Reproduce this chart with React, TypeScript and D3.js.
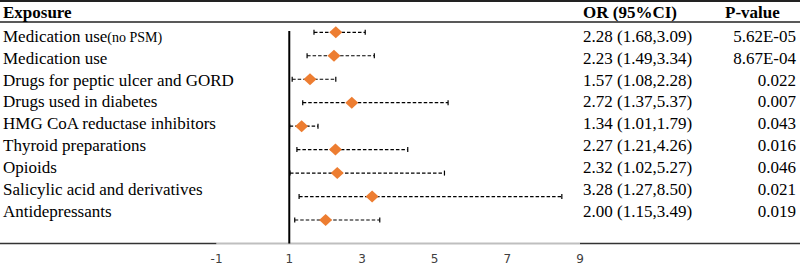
import React from "react";
import * as d3 from "d3";

const categories = [
  "Medication use",
  "Medication use",
  "Drugs for peptic ulcer and GORD",
  "Drugs used in diabetes",
  "HMG CoA reductase inhibitors",
  "Thyroid preparations",
  "Opioids",
  "Salicylic acid and derivatives",
  "Antidepressants",
];
const categoryNotes = ["(no PSM)", "", "", "", "", "", "", "", ""];
const orValues = [2.28, 2.23, 1.57, 2.72, 1.34, 2.27, 2.32, 3.28, 2.0];
const lowerCI = [1.68, 1.49, 1.08, 1.37, 1.01, 1.21, 1.02, 1.27, 1.15];
const upperCI = [3.09, 3.34, 2.28, 5.37, 1.79, 4.26, 5.27, 8.5, 3.49];
const pValues = ["5.62E-05", "8.67E-04", "0.022", "0.007", "0.043", "0.016", "0.046", "0.021", "0.019"];
const tickValues = [-1, 1, 3, 5, 7, 9];

const W = 800;
const H = 266;
const serif = "'Liberation Serif', 'Times New Roman', serif";
const sans = "'DejaVu Sans', 'Liberation Sans', Arial, sans-serif";

export default function App() {
  const idx = categories.map((_, i) => String(i));
  const x = d3.scaleLinear().domain([-1, 9]).range([216.6, 580]);
  const yMark = d3.scalePoint<string>().domain(idx).range([32.3, 220]);
  const yText = d3.scalePoint<string>().domain(idx).range([41.7, 216.9]);
  const axisY = 243.5;
  const diamond = (cx: number, cy: number) =>
    `M${cx},${cy - 6}L${cx + 6.5},${cy}L${cx},${cy + 6}L${cx - 6.5},${cy}Z`;

  return (
    <svg width={W} height={H} style={{ position: "absolute", left: 0, top: 0, background: "#fff" }}>
      {/* table rules */}
      <line x1={0} x2={W} y1={1} y2={1} stroke="#222" strokeWidth={2} />
      <line x1={0} x2={W} y1={22} y2={22} stroke="#222" strokeWidth={1.3} />
      <line x1={0} x2={x(-1)} y1={axisY} y2={axisY} stroke="#333" strokeWidth={1.5} />
      <line x1={x(9)} x2={W} y1={axisY} y2={axisY} stroke="#333" strokeWidth={1.5} />
      <line x1={x(-1)} x2={x(9)} y1={axisY} y2={axisY} stroke="#bfbfbf" strokeWidth={2} />

      {/* headers */}
      <text x={3} y={18.3} fontFamily={serif} fontSize={17} fontWeight="bold" fill="#000">Exposure</text>
      <text x={583} y={18.3} fontFamily={serif} fontSize={17} fontWeight="bold" fill="#000">OR (95%CI)</text>
      <text x={725} y={18.3} fontFamily={serif} fontSize={17} fontWeight="bold" fill="#000">P-value</text>

      {/* reference line */}
      <line x1={x(1)} x2={x(1)} y1={31} y2={axisY} stroke="#000" strokeWidth={2} />

      {categories.map((c, i) => {
        const k = String(i);
        const ym = yMark(k)!;
        const yt = yText(k)!;
        const lo = x(lowerCI[i]);
        const hi = x(upperCI[i]);
        return (
          <g key={i}>
            <text x={3} y={yt} fontFamily={serif} fontSize={17} fill="#000">
              {c}
              {categoryNotes[i] && <tspan fontSize={14}>{categoryNotes[i]}</tspan>}
            </text>
            <text x={583} y={yt} fontFamily={serif} fontSize={17} fill="#000">
              {`${orValues[i].toFixed(2)} (${lowerCI[i].toFixed(2)},${upperCI[i].toFixed(2)})`}
            </text>
            <text x={796} y={yt} fontFamily={serif} fontSize={17} fill="#000" textAnchor="end">
              {pValues[i]}
            </text>
            <line x1={lo} x2={hi} y1={ym} y2={ym} stroke="#000" strokeWidth={1.2} strokeDasharray="3.5,2" />
            <line x1={lo} x2={lo} y1={ym - 2.5} y2={ym + 2.5} stroke="#000" strokeWidth={1.2} />
            <line x1={hi} x2={hi} y1={ym - 2.5} y2={ym + 2.5} stroke="#000" strokeWidth={1.2} />
            <path d={diamond(x(orValues[i]), ym)} fill="#ED7D31" />
          </g>
        );
      })}

      {tickValues.map((t) => (
        <text key={t} x={x(t)} y={262.5} fontFamily={sans} fontSize={12} fill="#404040" textAnchor="middle">
          {t}
        </text>
      ))}
    </svg>
  );
}
